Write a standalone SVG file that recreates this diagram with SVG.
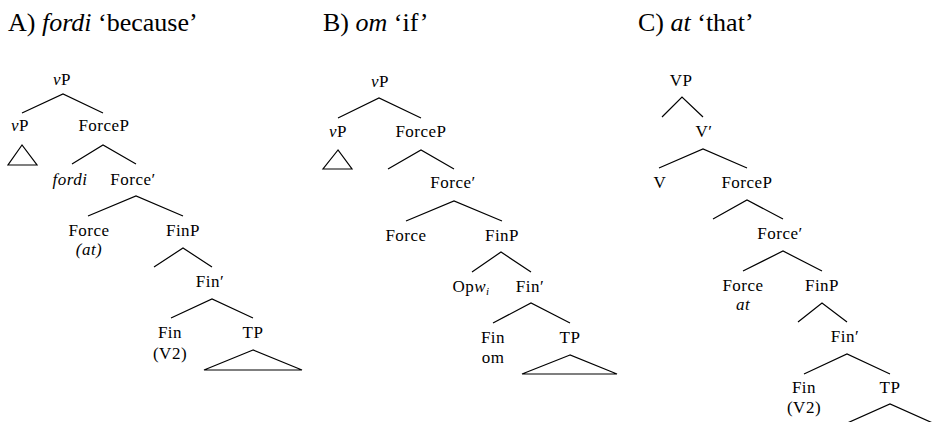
<svg xmlns="http://www.w3.org/2000/svg" width="932" height="422" viewBox="0 0 932 422">
<style>
.t{font-family:"Liberation Serif","Times New Roman",serif;font-size:26px;fill:#000}
.n{font-family:"Liberation Serif","Times New Roman",serif;font-size:17px;letter-spacing:0.5px;fill:#000;text-anchor:middle}
.i{font-style:italic}
.e{fill:none;stroke:#000;stroke-width:1.2;stroke-linejoin:miter}
</style>
<rect width="932" height="422" fill="#fff"/>
<g id="titles">
<text class="t" x="8" y="31">A) <tspan class="i">fordi</tspan> ‘because’</text>
<text class="t" x="323" y="31">B) <tspan class="i">om</tspan> ‘if’</text>
<text class="t" x="638" y="31">C) <tspan class="i">at</tspan> ‘that’</text>
</g>
<g id="connectors">
<!-- A -->
<polyline class="e" points="22,113 63,94 103,113"/>
<polygon class="e" points="22,145 8,165 37,165"/>
<polyline class="e" points="72,164 103,145 136,164"/>
<polyline class="e" points="88,216 136,196 183,216"/>
<polyline class="e" points="154,267 183,248 212,267"/>
<polyline class="e" points="171,318 212,299 253,318"/>
<polygon class="e" points="253,350 204,370 302,370"/>
<!-- B -->
<polyline class="e" points="338,118 379,98 421,118"/>
<polygon class="e" points="338,150 323,169 352,169"/>
<polyline class="e" points="388,169 421,150 454,169"/>
<polyline class="e" points="406,221 454,201 502,221"/>
<polyline class="e" points="472,272 501,252 531,272"/>
<polyline class="e" points="493,323 531,303 570,323"/>
<polygon class="e" points="570,355 522,374 617,374"/>
<!-- C -->
<polyline class="e" points="662,117 682,97 703,117"/>
<polyline class="e" points="659,168 703,149 747,168"/>
<polyline class="e" points="713,219 747,200 783,219"/>
<polyline class="e" points="743,271 783,251 822,271"/>
<polyline class="e" points="798,322 822,303 847,322"/>
<polyline class="e" points="804,374 847,354 890,374"/>
<polyline class="e" points="845,424 890,404 935,424"/>
</g>
<g id="A-vP-root"><text class="n" x="62" y="85"><tspan class="i">v</tspan>P</text></g>
<g id="A-vP"><text class="n" x="20" y="131"><tspan class="i">v</tspan>P</text></g>
<g id="A-ForceP"><text class="n" x="104" y="131">ForceP</text></g>
<g id="A-fordi"><text class="n i" x="70" y="185">fordi</text></g>
<g id="A-ForceBar"><text class="n" x="133" y="185">Force′</text></g>
<g id="A-Force"><text class="n" x="89" y="236">Force</text><text class="n i" x="89" y="255">(at)</text></g>
<g id="A-FinP"><text class="n" x="183" y="236">FinP</text></g>
<g id="A-FinBar"><text class="n" x="210" y="287">Fin′</text></g>
<g id="A-Fin"><text class="n" x="170" y="338">Fin</text><text class="n" x="170" y="359">(V2)</text></g>
<g id="A-TP"><text class="n" x="253" y="338">TP</text></g>

<g id="B-vP-root"><text class="n" x="380" y="87"><tspan class="i">v</tspan>P</text></g>
<g id="B-vP"><text class="n" x="338" y="137"><tspan class="i">v</tspan>P</text></g>
<g id="B-ForceP"><text class="n" x="421" y="137">ForceP</text></g>
<g id="B-ForceBar"><text class="n" x="453" y="188">Force′</text></g>
<g id="B-Force"><text class="n" x="406" y="241">Force</text></g>
<g id="B-FinP"><text class="n" x="502" y="241">FinP</text></g>
<g id="B-Op"><text class="n" x="471" y="292">Op<tspan class="i">w</tspan><tspan class="i" font-size="11" dy="3">i</tspan></text></g>
<g id="B-FinBar"><text class="n" x="530" y="292">Fin′</text></g>
<g id="B-Fin"><text class="n" x="493" y="343">Fin</text><text class="n" x="493" y="363">om</text></g>
<g id="B-TP"><text class="n" x="570" y="343">TP</text></g>

<g id="C-VP"><text class="n" x="681" y="86">VP</text></g>
<g id="C-VBar"><text class="n" x="704" y="137">V′</text></g>
<g id="C-V"><text class="n" x="660" y="188">V</text></g>
<g id="C-ForceP"><text class="n" x="747" y="188">ForceP</text></g>
<g id="C-ForceBar"><text class="n" x="780" y="239">Force′</text></g>
<g id="C-Force"><text class="n" x="743" y="291">Force</text><text class="n i" x="743" y="310">at</text></g>
<g id="C-FinP"><text class="n" x="822" y="291">FinP</text></g>
<g id="C-FinBar"><text class="n" x="845" y="342">Fin′</text></g>
<g id="C-Fin"><text class="n" x="804" y="393">Fin</text><text class="n" x="804" y="413">(V2)</text></g>
<g id="C-TP"><text class="n" x="890" y="393">TP</text></g>
</svg>
